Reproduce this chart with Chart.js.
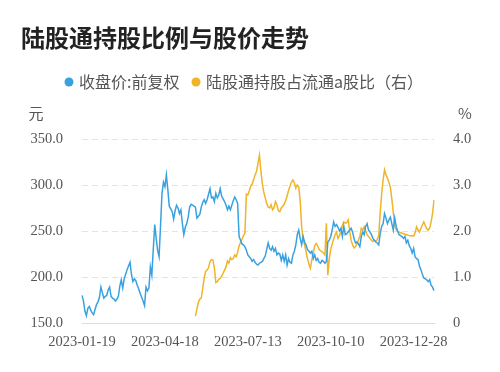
<!DOCTYPE html>
<html>
<head>
<meta charset="utf-8">
<script src="https://cdn.jsdelivr.net/npm/chart.js@4.4.0/dist/chart.umd.min.js"></script>
<style>
html,body{margin:0;padding:0;background:#fff;}
#wrap{width:500px;height:372px;position:relative;}
</style>
</head>
<body>
<div id="wrap"><canvas id="c" width="500" height="372"></canvas></div>
<script>
// ---------- data ----------
const chartTitle = '陆股通持股比例与股价走势';
const seriesNames = ['收盘价:前复权', '陆股通持股占流通a股比（右）'];
const leftUnit = '元';
const rightUnit = '%';

const startDate = '2023-01-19';
const endDate = '2024-01-18';
const marketHolidays = ['2023-01-23','2023-01-24','2023-01-25','2023-01-26','2023-01-27',
  '2023-04-05','2023-05-01','2023-05-02','2023-05-03','2023-06-22','2023-06-23',
  '2023-09-29','2023-10-02','2023-10-03','2023-10-04','2023-10-05','2023-10-06','2024-01-01'];

const tickLabels = ['2023-01-19','2023-04-18','2023-07-13','2023-10-10','2023-12-28'];
const leftTickValues = [150, 200, 250, 300, 350];
const rightTickValues = [0, 1, 2, 3, 4];

// 收盘价:前复权 (元), one value per trading day
const closePrice = [
180,174,163,158,166,168,164,161,159,165,
170,173,178,189,183,177,179,180,186,189,
179,177,176,174,176,179,190,197,188,198,
203,208,212,216,203,195,198,196,191,187,
182,178,174,169,189,185,188,211,202,230,
257,242,229,222,256,291,303,298,311,295,
277,274,271,263,272,278,275,269,273,258,
246,254,258,265,276,279,278,277,276,264,
266,268,276,281,284,280,284,290,296,286,
287,282,291,286,289,296,288,285,282,278,
273,277,273,278,283,287,284,280,244,240,
236,235,233,229,224,222,220,217,219,216,
214,213,215,216,217,220,223,230,237,231,
229,233,228,231,224,226,225,218,224,217,
224,213,220,216,215,224,228,235,246,251,
242,235,244,238,235,230,228,226,228,220,
224,218,220,216,215,218,217,215,217,238,
240,244,251,260,255,257,254,250,253,244,
255,246,247,249,251,253,249,242,237,238,
236,233,244,249,246,255,258,251,249,246,
242,240,238,237,235,247,255,258,269,264,
258,262,265,258,251,264,255,250,246,245,
244,242,244,237,240,234,231,226,231,222,
220,219,212,208,203,199,198,197,195,197,
191,189,185
];

// 陆股通持股占流通a股比 (%), starting on holdRatioStart
const holdRatioStart = '2023-05-22';
const holdRatio = [
0.15,0.30,0.45,0.52,0.54,0.75,0.98,1.12,1.15,1.20,
1.33,1.38,1.37,1.20,0.88,0.90,0.95,0.97,1.02,1.08,
1.15,1.22,1.35,1.30,1.42,1.38,1.40,1.48,1.44,1.54,
1.68,1.75,1.82,1.90,1.95,2.80,2.78,2.87,2.98,3.02,
3.12,3.22,3.30,3.47,3.65,3.30,3.02,2.84,2.72,2.60,
2.52,2.50,2.57,2.46,2.50,2.64,2.57,2.44,2.42,2.50,
2.54,2.58,2.66,2.76,2.88,2.98,3.06,3.11,3.05,2.93,
3.00,2.96,2.66,2.10,1.82,1.70,1.56,1.40,1.28,1.19,
1.37,1.52,1.68,1.73,1.68,1.60,1.57,1.55,1.52,1.48,
2.17,1.04,1.40,1.60,1.72,1.82,1.92,1.98,1.84,1.90,
1.98,2.12,2.20,2.17,2.18,2.24,2.02,1.80,1.70,1.63,
1.66,1.72,1.80,1.88,2.06,2.02,2.09,2.00,1.92,1.88,
1.84,1.80,1.77,1.80,1.77,1.82,1.90,2.40,2.80,3.11,
3.33,3.22,3.15,3.06,2.95,2.70,2.40,2.13,2.03,1.99,
1.98,1.96,1.95,1.94,1.93,1.92,1.91,1.90,1.89,1.90,
1.89,1.96,2.09,2.02,1.98,2.06,2.13,2.20,2.12,2.05,
2.02,2.06,2.20,2.38,2.67
];

// ---------- styling ----------
const BLUE = '#3aa1e0';
const ORANGE = '#f0b429';
const TEXT = '#555555';
const TICK_FONT = {family: '"Liberation Serif", serif', size: 14.5};
const CJK = '"Noto Sans CJK SC", "Noto Sans", sans-serif';

// ---------- build categories (trading days) ----------
function tradingDays(s, e, hol) {
  const out = [];
  const h = new Set(hol);
  let t = Date.parse(s + 'T00:00:00Z');
  const end = Date.parse(e + 'T00:00:00Z');
  while (t <= end) {
    const d = new Date(t);
    const wd = d.getUTCDay();
    const iso = d.toISOString().slice(0, 10);
    if (wd !== 0 && wd !== 6 && !h.has(iso)) out.push(iso);
    t += 86400000;
  }
  return out;
}
const labels = tradingDays(startDate, endDate, marketHolidays);
const ratioStartIdx = labels.indexOf(holdRatioStart);
const ratioData = labels.map((d, i) => {
  const k = i - ratioStartIdx;
  return (k >= 0 && k < holdRatio.length) ? holdRatio[k] : null;
});

// ---------- decorations: title, legend, units ----------
const decor = {
  id: 'decor',
  afterDraw(chart) {
    const ctx = chart.ctx;
    const ca = chart.chartArea;
    ctx.save();
    ctx.textBaseline = 'middle';
    // title
    ctx.fillStyle = '#222222';
    ctx.font = 'bold 24px ' + CJK;
    ctx.textAlign = 'left';
    ctx.fillText(chartTitle, 21, 38);
    // legend
    ctx.font = '16px ' + CJK;
    const items = [
      {name: seriesNames[0], color: BLUE, x: 69},
      {name: seriesNames[1], color: ORANGE, x: 196}
    ];
    items.forEach(it => {
      ctx.fillStyle = it.color;
      ctx.beginPath();
      ctx.arc(it.x, 82, 4.5, 0, Math.PI * 2);
      ctx.fill();
      ctx.fillStyle = TEXT;
      ctx.fillText(it.name, it.x + 10, 82);
    });
    // axis units
    ctx.font = '15px ' + CJK;
    ctx.fillStyle = TEXT;
    ctx.textAlign = 'center';
    ctx.fillText(leftUnit, 36, 113);
    ctx.fillText(rightUnit, 465, 113);
    ctx.restore();
  }
};

new Chart(document.getElementById('c').getContext('2d'), {
  type: 'line',
  data: {
    labels: labels,
    datasets: [
      {label: seriesNames[0], data: closePrice, yAxisID: 'y', borderColor: BLUE,
       borderWidth: 1.5, pointRadius: 0, tension: 0, fill: false},
      {label: seriesNames[1], data: ratioData, yAxisID: 'y1', borderColor: ORANGE,
       borderWidth: 1.5, pointRadius: 0, tension: 0, fill: false}
    ]
  },
  options: {
    responsive: false,
    animation: false,
    devicePixelRatio: 1,
    layout: {padding: {top: 139, left: 0, right: 0, bottom: 0}},
    plugins: {legend: {display: false}, title: {display: false}, tooltip: {enabled: false}},
    scales: {
      x: {
        type: 'category',
        offset: false,
        grid: {display: false, drawTicks: false},
        border: {display: true, color: '#dddddd', width: 1},
        ticks: {
          autoSkip: false, maxRotation: 0, minRotation: 0, padding: 10,
          color: TEXT, font: TICK_FONT,
          callback: function (v) {
            const l = this.getLabelForValue(v);
            return tickLabels.includes(l) ? l : null;
          }
        },
        afterFit: s => { s.height = 49; }
      },
      y: {
        position: 'left',
        min: leftTickValues[0], max: leftTickValues[leftTickValues.length - 1],
        afterBuildTicks: s => { s.ticks = leftTickValues.map(v => ({value: v})); },
        ticks: {padding: 19, color: TEXT, font: TICK_FONT, callback: v => Number(v).toFixed(1)},
        grid: {drawTicks: false, lineWidth: 1,
               color: c => (c.tick && c.tick.value === leftTickValues[0]) ? 'rgba(0,0,0,0)' : '#e4e4e4'},
        border: {display: false, dash: [6, 4]},
        afterFit: s => { s.width = 82; }
      },
      y1: {
        position: 'right',
        min: rightTickValues[0], max: rightTickValues[rightTickValues.length - 1],
        afterBuildTicks: s => { s.ticks = rightTickValues.map(v => ({value: v})); },
        ticks: {padding: 19, color: TEXT, font: TICK_FONT,
                callback: v => Number(v) === 0 ? '0' : Number(v).toFixed(1)},
        grid: {display: false, drawTicks: false},
        border: {display: false},
        afterFit: s => { s.width = 66; }
      }
    }
  },
  plugins: [decor]
});
</script>
</body>
</html>
